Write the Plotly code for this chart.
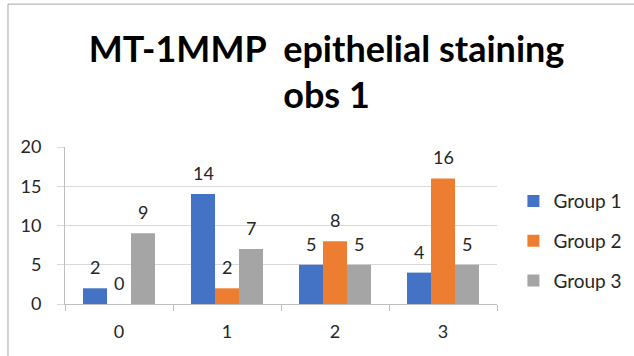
import plotly.graph_objects as go

categories = ["0", "1", "2", "3"]
series_names = ["Group 1", "Group 2", "Group 3"]
group1 = [2, 14, 5, 4]
group2 = [0, 2, 8, 16]
group3 = [9, 7, 5, 5]
colors = ["#4472C4", "#ED7D31", "#A5A5A5"]
y_ticks = [0, 5, 10, 15, 20]

series_values = [group1, group2, group3]
FONT = "Lato, Carlito, Calibri, sans-serif"
TXT = "#262626"

fig = go.Figure()
for i, (name, vals, col) in enumerate(zip(series_names, series_values, colors)):
    fig.add_trace(go.Bar(
        x=categories, y=vals, name=name,
        marker=dict(color=col, line=dict(width=0)),
        legendgroup=name,
    ))

# value labels floating above each bar
bar_px = 24
annotations = []
for i, vals in enumerate(series_values):
    for c, v in zip(categories, vals):
        annotations.append(dict(
            x=c, y=v, xref="x", yref="y", text=str(v), showarrow=False,
            xshift=(i - 1) * bar_px, yshift=21,
            font=dict(family=FONT, size=18, color=TXT),
            xanchor="center", yanchor="middle",
        ))

fig.update_layout(
    width=634, height=356,
    margin=dict(l=65, r=137.3, t=147.3, b=52.3, autoexpand=False),
    paper_bgcolor="white", plot_bgcolor="white",
    barmode="group", bargap=1/3, bargroupgap=0,
    font=dict(family=FONT, size=18, color=TXT),
    title=dict(
        text="<b>MT-1MMP  epithelial staining</b><br><b>obs 1</b>",
        x=0.515, xanchor="center", y=0.827, yanchor="middle",
        font=dict(family=FONT, size=36, color="#000000"),
    ),
    legend=dict(
        x=1.038, xanchor="left", y=0.40, yanchor="middle",
        font=dict(family=FONT, size=19, color=TXT),
        traceorder="grouped", tracegroupgap=12,
        bgcolor="rgba(0,0,0,0)",
    ),
    annotations=annotations,
    shapes=[dict(
        type="rect", xref="paper", yref="paper",
        x0=-0.132, x1=1.35, y0=-0.4, y1=1.91,
        line=dict(color="#A6A6A6", width=1), fillcolor="rgba(0,0,0,0)",
        layer="below",
    )],
)

fig.update_xaxes(
    type="category", showgrid=False,
    showline=True, linecolor="#BFBFBF", linewidth=1,
    ticks="outside", tickson="boundaries", ticklen=6, tickcolor="#BFBFBF",
    ticklabelstandoff=11,
    tickfont=dict(family=FONT, size=18, color=TXT),
)
fig.update_yaxes(
    range=[0, 20], tickvals=y_ticks,
    showgrid=True, gridcolor="#D9D9D9", gridwidth=1,
    showline=True, linecolor="#BFBFBF", linewidth=1,
    ticks="outside", ticklen=7, tickcolor="#D9D9D9",
    ticklabelstandoff=12, zeroline=False,
    tickfont=dict(family=FONT, size=18, color=TXT),
)

fig.write_html("out.html")
